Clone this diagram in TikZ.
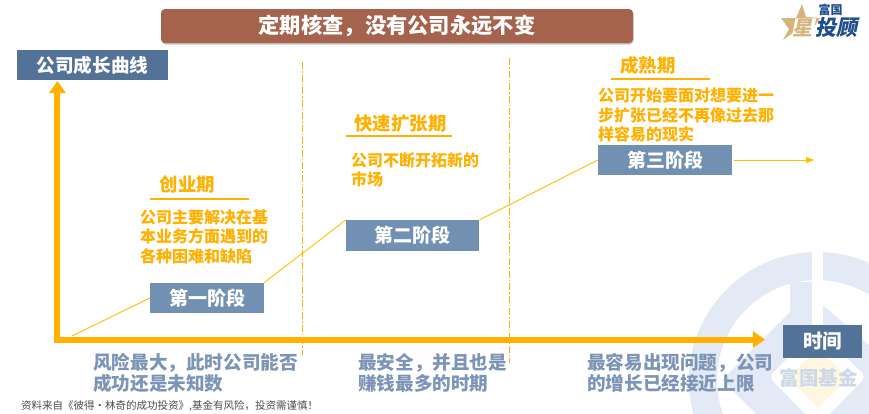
\documentclass[tikz,border=0pt]{standalone}
\usepackage{fontspec}
\setmainfont{Noto Sans CJK SC}
\usetikzlibrary{arrows.meta,shadows}
\definecolor{titlebrown}{HTML}{A5634D}
\definecolor{darkslate}{HTML}{537298}
\definecolor{stageblue}{HTML}{7290B2}
\definecolor{axisorange}{HTML}{FFB000}
\definecolor{thinorange}{HTML}{FFC000}
\definecolor{notegrey}{HTML}{7C94B6}
\definecolor{markblue}{HTML}{E4EAF5}
\definecolor{markgold}{HTML}{FFF6E0}
\definecolor{marktext}{HTML}{CDD9E9}
\definecolor{logotan}{HTML}{D6B47C}
\definecolor{logoblue}{HTML}{1F4E8C}
\tikzset{
	stagebox/.style={fill=stageblue, text=white, inner sep=0pt, minimum width=#1, minimum height=30.5pt, font=\fontsize{19}{19}\selectfont\bfseries},
	headbox/.style={fill=darkslate, text=white, inner sep=0pt, font=\fontsize{18.6}{19}\selectfont\bfseries},
	stagehead/.style={text=axisorange, inner sep=0pt, font=\fontsize{18.4}{19}\selectfont\bfseries},
	stagetext/.style={text=axisorange, inner sep=0pt, anchor=north west, align=left, font=\fontsize{16}{19.5}\selectfont\bfseries},
	risknote/.style={text=notegrey, inner sep=0pt, anchor=north west, align=left, font=\fontsize{18.6}{21}\selectfont\bfseries},
	headrule/.style={draw=axisorange, line width=1.6pt},
	growline/.style={draw=thinorange, line width=0.9pt},
	divider/.style={draw=axisorange, line width=0.9pt, dash pattern=on 7pt off 2pt on 1.5pt off 2pt},
	axisline/.style={draw=axisorange, line width=6pt, {Triangle[width=16pt,length=12pt]}-{Triangle[width=16pt,length=12pt]}},
}
\begin{document}
\begin{tikzpicture}[>=Latex, x=1pt, y=-1pt]
	\useasboundingbox (0,0) rectangle (869,413);
	% watermark
	\begin{scope}
		\clip (0,0) rectangle (869,413);
		\fill[markblue, even odd rule] (817,380) circle (128) (817,380) circle (100);
		\fill[markblue] (722,380) -- (790,312) -- (790,282) -- (812,282) -- (812,400) -- (823,400) -- (823,305) -- (880,355) -- (880,420) -- (762,420) -- cycle;
		\fill[white] (812,240) rectangle (823,340);
		\fill[white, rounded corners=6pt] (817.5,328) -- (866,377) -- (817.5,426) -- (769,377) -- cycle;
		\fill[markgold] (818,348) -- (848,378) -- (818,408) -- (788,378) -- cycle;
	\end{scope}
	\node[text=marktext, inner sep=0pt, font=\fontsize{19.5}{20}\selectfont\bfseries] (markname) at (818.5,378) {富国基金};
	% logo
	\fill[logotan] (802,4) -- (806,17) -- (820,18) -- (812,30) -- (797,30) -- (783,40) -- (789,29) -- (781,18) -- (796,18) -- cycle;
	\node[text=logotan, fill=white, inner sep=0.3pt, font=\fontsize{20}{20}\selectfont\bfseries, xslant=0.2, transform shape] (logostar) at (804,27.5) {星};
	\node[text=logoblue, inner sep=0pt, font=\fontsize{21}{21}\selectfont\bfseries, xslant=0.2, transform shape] (logoname) at (838.5,27.5) {投顾};
	\node[text=logoblue, inner sep=0pt, font=\fontsize{12}{12}\selectfont\bfseries] (logotop) at (830.5,9.5) {富国};
	% title
	\node[fill=titlebrown, text=white, rounded corners=4pt, drop shadow={shadow xshift=0.5pt, shadow yshift=-1.5pt, fill=black!45}, minimum width=472pt, minimum height=34pt, inner sep=0pt, font=\fontsize{21.3}{22}\selectfont\bfseries] (title) at (397,26) {定期核查，没有公司永远不变};
	\node[headbox, minimum width=151pt, minimum height=30pt] (curvelabel) at (92.5,65) {公司成长曲线};
	% dividers
	\coordinate (divonetop) at (302,62);
	\coordinate (divonebot) at (302,355);
	\coordinate (divtwotop) at (509.5,58);
	\coordinate (divtwobot) at (509.5,363);
	\draw[divider] (divonetop) -- (divonebot);
	\draw[divider] (divtwotop) -- (divtwobot);
	% axes
	\coordinate (origin) at (57.4,339.5);
	\coordinate (ytop) at (57.4,81);
	\coordinate (xend) at (765,339.5);
	\draw[axisline] (ytop) -- (origin) -- (xend);
	\node[headbox, minimum width=79pt, minimum height=33pt, font=\fontsize{19.5}{20}\selectfont\bfseries] (timelabel) at (822.5,341.5) {时间};
	% stages
	\node[stagebox=114pt] (stageone) at (207,298) {第一阶段};
	\node[stagebox=133pt] (stagetwo) at (412.5,235.5) {第二阶段};
	\node[stagebox=134pt] (stagethree) at (665,160) {第三阶段};
	\coordinate (growstart) at (72,336);
	\coordinate (growend) at (814,160);
	\draw[growline] (growstart) -- (stageone.west);
	\draw[growline] (stageone.north east) -- (stagetwo.north west);
	\draw[growline] (stagetwo.north east) -- (stagethree.west);
	\draw[growline, -{Triangle[width=6pt,length=8pt]}, shorten <=2pt] (stagethree.east) -- (growend);
	% stage one
	\node[stagehead] (headone) at (187.5,184) {创业期};
	\coordinate (ruleonel) at (150,199);
	\coordinate (ruleoner) at (249,199);
	\draw[headrule] (ruleonel) -- (ruleoner);
	\node[stagetext] (textone) at (140,209.5) {公司主要解决在基\\本业务方面遇到的\\各种困难和缺陷};
	% stage two
	\node[stagehead] (headtwo) at (400.5,124) {快速扩张期};
	\coordinate (ruletwol) at (346,136);
	\coordinate (ruletwor) at (452,136);
	\draw[headrule] (ruletwol) -- (ruletwor);
	\node[stagetext] (texttwo) at (351,152) {公司不断开拓新的\\市场};
	% stage three
	\node[stagehead] (headthree) at (648,65) {成熟期};
	\coordinate (rulethreel) at (611,79);
	\coordinate (rulethreer) at (710,79);
	\draw[headrule] (rulethreel) -- (rulethreer);
	\node[stagetext] (textthree) at (598,88) {公司开始要面对想要进一\\步扩张已经不再像过去那\\样容易的现实};
	% notes below the axis
	\node[risknote] (noteone) at (93,353) {风险最大，此时公司能否\\成功还是未知数};
	\node[risknote] (notetwo) at (358,353) {最安全，并且也是\\赚钱最多的时期};
	\node[risknote] (notethree) at (587,353) {最容易出现问题，公司\\的增长已经接近上限};
	\node[text=black!70, inner sep=0pt, anchor=west, font=\fontsize{10.5}{12}\selectfont] (source) at (21,406.5) {资料来自《彼得·林奇的成功投资》,基金有风险，投资需谨慎！};
\end{tikzpicture}
\end{document}
